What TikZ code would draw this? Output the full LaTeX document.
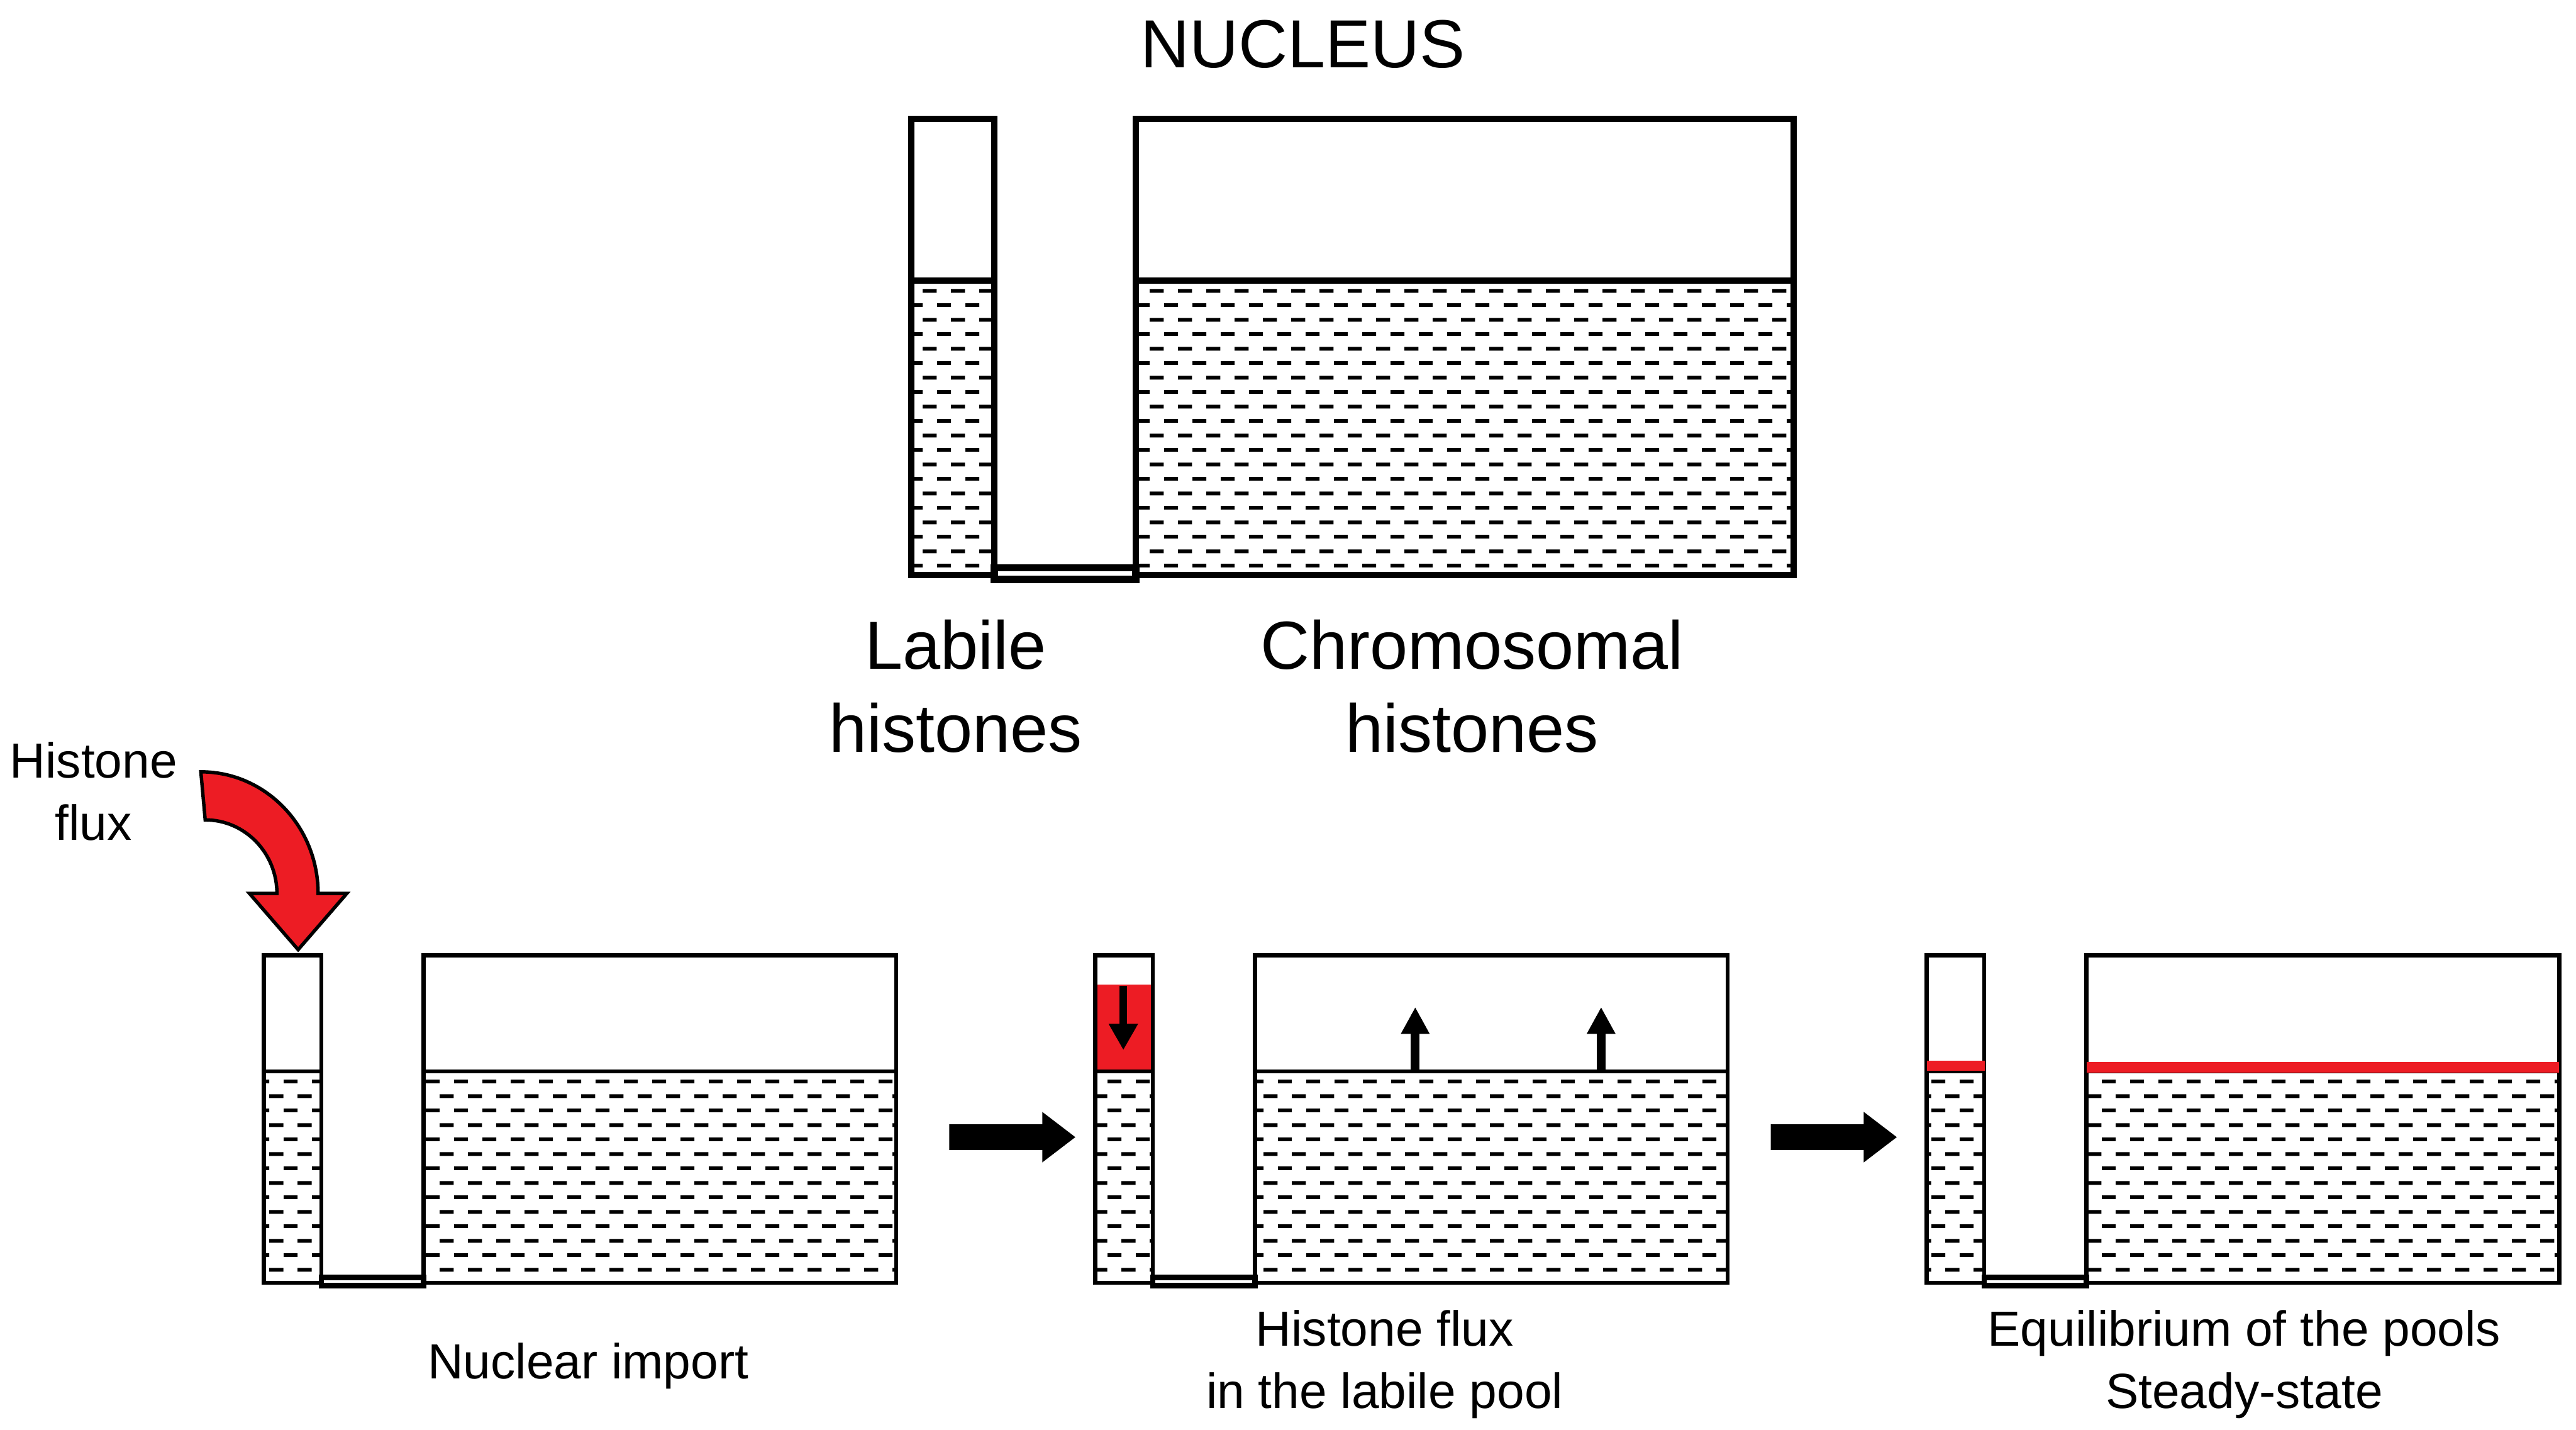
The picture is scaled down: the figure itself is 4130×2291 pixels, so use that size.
\documentclass[tikz,border=0pt]{standalone}
\usepackage{fontspec}
\setmainfont{Liberation Sans}
\usepackage{tikz}
\usetikzlibrary{arrows.meta}
\usetikzlibrary{patterns.meta, positioning}

\definecolor{fluxred}{RGB}{237,28,36}

% dashed "liquid" fill of the pools
\tikzdeclarepattern{
  name=liquid,
  type=uncolored,
  bounding box={(0pt,0pt) and (12.95pt,13.1pt)},
  tile size={(12.95pt,13.1pt)},
  code={
    \fill (0pt,0pt) rectangle (6.47pt,1.7pt);
    \fill (6.47pt,6.55pt) rectangle (12.95pt,8.25pt);
  }
}

\tikzset{
  wall/.style={draw=black, line width=#1, line join=miter},
  liquid/.style={pattern=liquid, pattern color=black},
  biglabel/.style={font=\fontsize{31}{37.8}\selectfont, align=center, anchor=base},
  smalllabel/.style={font=\fontsize{22.5}{28.5}\selectfont, align=center, anchor=base},
  upflux/.style={line width=0.14cm, -{Triangle[length=0.43cm, width=0.43cm]}},
}

\begin{document}
\begin{tikzpicture}[x=0.01cm, y=-0.01cm]
    \useasboundingbox (0,0) rectangle (4130,2291);

    % nucleus
    \fill[liquid] (1461,450) rectangle (1594,922);
    \fill[liquid] (1821,450) rectangle (2876,922);
    \draw[wall=0.1cm] (1461,191) rectangle (1594,922);
    \draw[wall=0.1cm] (1821,191) rectangle (2876,922);
    \draw[wall=0.1cm] (1461,450) -- (1594,450) (1821,450) -- (2876,450);
    \draw[wall=0.115cm] (1594,910) rectangle (1821,928.5);

    \node[biglabel] (nucleus) at (2089,108) {NUCLEUS};
    \node[biglabel] (labile) at (1532,1205) {Labile\\histones};
    \node[biglabel] (chromosomal) at (2360,1205) {Chromosomal\\histones};

    % the three steps
    \foreach \dx in {0,1333,2666} {
        \begin{scope}[shift={(\dx,0)}]
            \fill[liquid] (423,1717) rectangle (515,2056);
            \fill[liquid] (679,1717) rectangle (1437,2056);
            \ifnum\dx=1333
                \fill[fluxred] (423,1578) rectangle (515,1717);
            \fi
            \draw[wall=0.065cm] (423,1531) rectangle (515,2056);
            \draw[wall=0.065cm] (679,1531) rectangle (1437,2056);
            \draw[wall=0.065cm] (423,1717) -- (515,1717) (679,1717) -- (1437,1717);
            \draw[wall=0.085cm] (515,2047.5) rectangle (679,2060.5);
        \end{scope}
    }

    % histone flux into the labile pool
    \draw[fill=fluxred, line width=0.055cm, line join=miter]
        (322,1237) arc[start angle=-90, end angle=0, x radius=188, y radius=195]
        -- (556,1432) -- (478,1522) -- (400,1432) -- (444,1432)
        arc[start angle=0, end angle=-90, x radius=115, y radius=118] -- cycle;
    \node[smalllabel] (fluxlabel) at (150,1347) {Histone\\flux};

    % step arrows
    \foreach \ax in {1522,2839} {
        \fill[black] (\ax,1802) -- ++(149,0) -- ++(0,-20) -- ++(53,40.5)
            -- ++(-53,40.5) -- ++(0,-20) -- ++(-149,0) -- cycle;
    }

    % step 2: flux in the labile pool
    \draw[line width=0.12cm, -{Triangle[length=0.42cm, width=0.44cm]}] (1801,1580) -- (1801,1683);
    \draw[upflux] (2269,1717) -- (2269,1614);
    \draw[upflux] (2567,1717) -- (2567,1614);

    % step 3: new levels
    \fill[fluxred] (3089,1700) rectangle (3182,1716);
    \fill[fluxred] (3345,1702) rectangle (4103,1719);

    \node[smalllabel] (import) at (943,2210) {Nuclear import};
    \node[smalllabel] (labilepool) at (2220,2257) {Histone flux\\in the labile pool};
    \node[smalllabel] (steady) at (3598,2257) {Equilibrium of the pools\\Steady-state};
\end{tikzpicture}
\end{document}
